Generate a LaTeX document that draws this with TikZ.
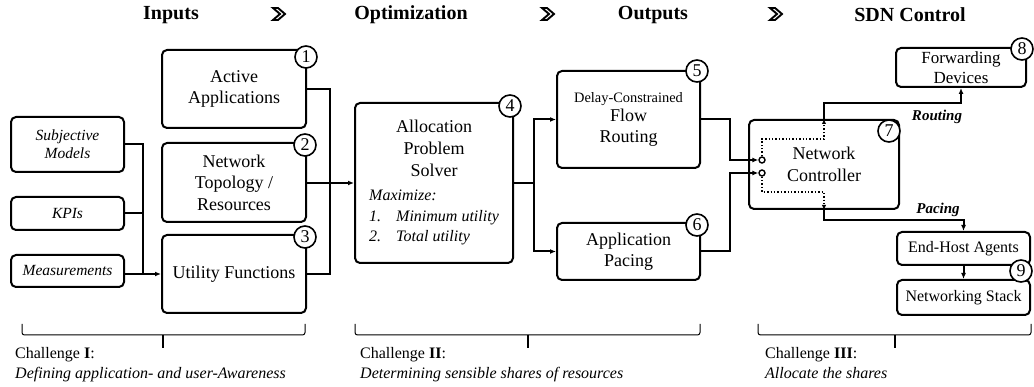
\documentclass[tikz,border=0pt]{standalone}
\usepackage{fontspec}
\setmainfont{Liberation Serif}
\usetikzlibrary{arrows.meta,calc}
\newcommand\fsz[2]{\fontsize{#1}{#2}\selectfont}
\begin{document}
\begin{tikzpicture}[x=1pt,y=-1pt,
  box/.style={draw, rounded corners=5pt, line width=2pt, align=center, inner sep=0pt, font=\fsz{18}{21.5}},
  sbox/.style={box, font=\fsz{15.5}{18}\itshape},
  num/.style={circle, draw, fill=white, line width=1.6pt, inner sep=0pt, minimum size=22pt, font=\fsz{18}{18}},
  port/.style={circle, draw, fill=white, line width=1.4pt, inner sep=0pt, minimum size=6pt},
  conn/.style={line width=2pt},
  arr/.style={conn, -{Latex[length=6pt,width=5pt]}},
  darr/.style={line width=1.4pt, dotted, -{Latex[length=5pt,width=4.5pt]}},
  head/.style={font=\fsz{20}{24}\bfseries, inner sep=0pt},
  lab/.style={font=\fsz{15}{18}\bfseries\itshape, inner sep=0pt},
  chev/.style={line width=1.9pt, line join=miter},
  brc/.style={line width=1pt, rounded corners=2.5pt},
  capt/.style={anchor=north west, align=left, font=\fsz{16}{20}, inner sep=0pt}]
\useasboundingbox[fill=white] (0,0) rectangle (1034,387);

% headers
\node[head] (h1) at (171,15) {Inputs};
\node[head] (h2) at (411,15) {Optimization};
\node[head] (h3) at (653,15) {Outputs};
\node[head] (h4) at (910,15) {SDN Control};
\foreach \cx in {279,548,776}{
  \draw[chev] (\cx-6,8) -- (\cx-1,8) -- (\cx+6,14) -- (\cx-1,20) -- (\cx-6,20) -- (\cx+1,14) -- cycle;
}

% input boxes
\node[sbox, minimum width=113pt, minimum height=55pt] (sm) at (67.5,144.5) {Subjective\\Models};
\node[sbox, minimum width=113pt, minimum height=33pt] (kpi) at (67.5,213.5) {KPIs};
\node[sbox, minimum width=113pt, minimum height=32pt] (meas) at (67.5,271) {Measurements};
\node[box, minimum width=144pt, minimum height=78pt] (app) at (234,89) {Active\\Applications};
\node[box, minimum width=144pt, minimum height=79pt] (topo) at (234,182.5) {Network\\Topology /\\Resources};
\node[box, minimum width=144pt, minimum height=78pt] (util) at (234,274) {Utility Functions};

% solver
\node[box, minimum width=158pt, minimum height=160pt] (solver) at (434,183) {};
\node[align=center, font=\fsz{18}{22}, inner sep=0pt] (solvt) at (434,148) {Allocation\\Problem\\Solver};
\node[anchor=west, align=left, font=\fsz{16}{20.5}\itshape, inner sep=0pt] (solvm) at (369,217.5)
  {Maximize:\\\makebox[27pt][l]{1.}Minimum utility\\\makebox[27pt][l]{2.}Total utility};

% outputs
\node[box, minimum width=143pt, minimum height=97pt] (route) at (628.5,119.5) {{\fsz{14.4}{16}Delay-Constrained}\\[-3pt]Flow\\Routing};
\node[box, minimum width=143pt, minimum height=57pt] (pace) at (628.5,251.5) {Application\\Pacing};

% SDN control
\node[box, minimum width=150pt, minimum height=89pt] (ctrl) at (824,164.5) {Network\\Controller};
\node[box, minimum width=130pt, minimum height=39pt, font=\fsz{17}{20}] (fwd) at (961,67.5) {Forwarding\\Devices};
\node[box, minimum width=133pt, minimum height=33pt, font=\fsz{16}{18}] (eha) at (963.5,248.5) {End-Host Agents};
\node[box, minimum width=133pt, minimum height=35pt, font=\fsz{16}{18}] (ns) at (963.5,297.5) {Networking Stack};
\node[port] (c1) at (762,160) {};
\node[port] (c2) at (762,173) {};

% connectors: inputs
\coordinate (j1) at (143,274);
\draw[conn] (sm.east) -| (j1);
\draw[conn] (kpi.east) -- (kpi.east -| j1);
\draw[arr] (meas.east |- util.west) -- (util.west);
\coordinate (j2) at (330,183);
\draw[conn] (app.east) -| (j2) |- (util.east);
\draw[arr] (topo.east |- solver.west) -- (solver.west);

% connectors: solver
\coordinate (j3) at (534,183);
\draw[conn] (solver.east) -- (j3);
\draw[arr] (j3) |- (route.west);
\draw[arr] (j3) |- (pace.west);

% connectors: outputs to controller
\coordinate (k1) at (730,0);
\draw[arr] (route.east) -- (route.east -| k1) |- (c1.west);
\draw[arr] (pace.east) -- (pace.east -| k1) |- (c2.west);

% inside controller
\coordinate (u1) at (824,139);
\coordinate (u2) at (824,192);
\draw[darr] (c1.north) |- (u1) -- (ctrl.north);
\draw[darr] (c2.south) |- (u2) -- (ctrl.south);

% controller to devices
\coordinate (r1) at (824,103);
\coordinate (r2) at (824,220);
\draw[arr] (ctrl.north) -- (r1) -| (fwd.south);
\draw[arr] (ctrl.south) -- (r2) -| (eha.north);
\draw[arr] (eha.south) -- (ns.north);
\node[lab] (lr) at (937,117) {Routing};
\node[lab] (lp) at (938,210) {Pacing};

% numbers
\node[num] (n1) at (306,57) {1};
\node[num] (n2) at (305,145) {2};
\node[num] (n3) at (305,237) {3};
\node[num] (n4) at (510,106) {4};
\node[num] (n5) at (697,71) {5};
\node[num] (n6) at (697,225) {6};
\node[num] (n7) at (889,131) {7};
\node[num] (n8) at (1022,49) {8};
\node[num] (n9) at (1021,271) {9};

% braces
\draw[brc] (22,324) -- (22,335) -- (305,335) -- (305,324);
\draw[line width=1.5pt] (163,335) -- (163,348);
\draw[brc] (355,324) -- (355,335) -- (700,335) -- (700,324);
\draw[line width=1.5pt] (528,335) -- (528,348);
\draw[brc] (758,324) -- (758,335) -- (1031,335) -- (1031,324);
\draw[line width=1.5pt] (895,335) -- (895,348);

% captions
\node[capt] (ch1) at (15,347) {Challenge \textbf{I}:\\\textit{Defining application- and user-Awareness}};
\node[capt] (ch2) at (360,347) {Challenge \textbf{II}:\\\textit{Determining sensible shares of resources}};
\node[capt] (ch3) at (765,347) {Challenge \textbf{III}:\\\textit{Allocate the shares}};
\end{tikzpicture}
\end{document}
